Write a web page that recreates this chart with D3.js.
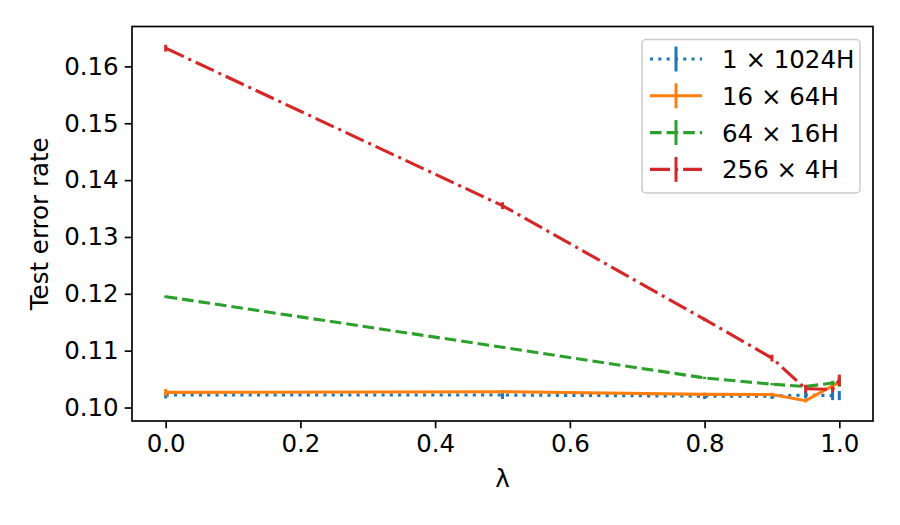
<!DOCTYPE html>
<html>
<head>
<meta charset="utf-8">
<script src="https://cdn.jsdelivr.net/npm/d3@7"></script>
<style>
  body { margin: 0; background: #fff; }
  svg text { font-family: "DejaVu Sans", sans-serif; fill: #000; }
</style>
</head>
<body>
<div id="chart"></div>
<script>
// Lambda values (x)
const lambdas = [0, 0.5, 0.8, 0.9, 0.95, 0.99, 1.0];

// Series: test error rate and its error bar half-length
const seriesNames = ["1 × 1024H", "16 × 64H", "64 × 16H", "256 × 4H"];
const blueVals   = [0.1022, 0.1022, 0.1020, 0.1020, 0.1022, 0.1021, 0.1021];
const blueErr    = [0.0006, 0.0007, 0.0005, 0.0005, 0.0006, 0.0008, 0.0008];
const orangeVals = [0.10266, 0.10278, 0.10232, 0.1023, 0.1012, 0.1038, 0.1045];
const orangeErr  = [0.0006, 0.0003, 0.0003, 0.0003, 0.0003, 0.0005, 0.0008];
const greenVals  = [0.1195, 0.1106, 0.1052, 0.1041, 0.1037, 0.1043, 0.1045];
const greenErr   = [0.0002, 0.0002, 0.0002, 0.0002, 0.0002, 0.0004, 0.0008];
const redVals    = [0.1632, 0.1355, 0.1155, 0.1087, 0.1033, 0.1032, 0.1048];
const redErr     = [0.0006, 0.0006, 0.0003, 0.0006, 0.0007, 0.0005, 0.0010];

const xTicks = [0.0, 0.2, 0.4, 0.6, 0.8, 1.0];
const yTicks = [0.10, 0.11, 0.12, 0.13, 0.14, 0.15, 0.16];

const colors = ["#1f77b4", "#ff7f0e", "#2ca02c", "#d62728"];
const dashes = ["3.1,5.2", null, "11.6,5", "20,5,3.1,5"];

const allVals = [blueVals, orangeVals, greenVals, redVals];
const allErr = [blueErr, orangeErr, greenErr, redErr];

const width = 900, height = 525;
const plotLeft = 132, plotRight = 873, plotTop = 26.5, plotBottom = 421;

const svg = d3.select("#chart").append("svg")
    .attr("width", width)
    .attr("height", height);

const x = d3.scaleLinear().domain([-0.05, 1.05]).range([plotLeft, plotRight]);
const y = d3.scaleLinear().domain([0.09763, 0.16702]).range([plotBottom, plotTop]);

// Lines
const line = d3.line()
    .x((d, i) => x(lambdas[i]))
    .y(d => y(d));

allVals.forEach((vals, s) => {
    const g = svg.append("g");
    // error bars
    g.selectAll("line")
        .data(vals)
        .enter()
        .append("line")
        .attr("x1", (d, i) => x(lambdas[i]))
        .attr("x2", (d, i) => x(lambdas[i]))
        .attr("y1", (d, i) => y(d - allErr[s][i]))
        .attr("y2", (d, i) => y(d + allErr[s][i]))
        .attr("stroke", colors[s])
        .attr("stroke-width", 3);
    g.append("path")
        .attr("d", line(vals))
        .attr("fill", "none")
        .attr("stroke", colors[s])
        .attr("stroke-width", 3.1)
        .attr("stroke-dasharray", dashes[s]);
});

// Axes
const xAxis = svg.append("g")
    .attr("transform", "translate(0," + plotBottom + ")")
    .call(d3.axisBottom(x).tickValues(xTicks).tickFormat(d3.format(".1f")).tickSize(7.3).tickPadding(6));
const yAxis = svg.append("g")
    .attr("transform", "translate(" + plotLeft + ",0)")
    .call(d3.axisLeft(y).tickValues(yTicks).tickFormat(d3.format(".2f")).tickSize(7.3).tickPadding(6));

[xAxis, yAxis].forEach(a => {
    a.select(".domain").remove();
    a.selectAll(".tick line").attr("stroke", "#000").attr("stroke-width", 1.67);
    a.selectAll(".tick text").style("font-size", "24.5px").attr("fill", "#000");
});

// Frame
svg.append("rect")
    .attr("x", plotLeft).attr("y", plotTop)
    .attr("width", plotRight - plotLeft).attr("height", plotBottom - plotTop)
    .attr("fill", "none")
    .attr("stroke", "#000")
    .attr("stroke-width", 1.67);

// Axis labels
svg.append("text")
    .attr("x", (plotLeft + plotRight) / 2)
    .attr("y", 487)
    .attr("text-anchor", "middle")
    .style("font-size", "24.5px")
    .text("λ");

svg.append("text")
    .attr("transform", "translate(48," + ((plotTop + plotBottom) / 2) + ") rotate(-90)")
    .attr("text-anchor", "middle")
    .style("font-size", "24.5px")
    .text("Test error rate");

// Legend
const legend = svg.append("g");
legend.append("rect")
    .attr("x", 642).attr("y", 39.5)
    .attr("width", 218).attr("height", 153.5)
    .attr("rx", 4)
    .attr("fill", "#fff")
    .attr("fill-opacity", 0.8)
    .attr("stroke", "#cccccc")
    .attr("stroke-width", 1.5);

seriesNames.forEach((name, s) => {
    const cy = 59 + s * 36.8;
    legend.append("line")
        .attr("x1", 650).attr("x2", 702)
        .attr("y1", cy).attr("y2", cy)
        .attr("stroke", colors[s])
        .attr("stroke-width", 3.1)
        .attr("stroke-dasharray", dashes[s]);
    legend.append("line")
        .attr("x1", 676).attr("x2", 676)
        .attr("y1", cy - 12.5).attr("y2", cy + 12.5)
        .attr("stroke", colors[s])
        .attr("stroke-width", 3);
    legend.append("text")
        .attr("x", 722)
        .attr("y", cy + 9)
        .style("font-size", "24.5px")
        .text(name);
});
</script>
</body>
</html>
